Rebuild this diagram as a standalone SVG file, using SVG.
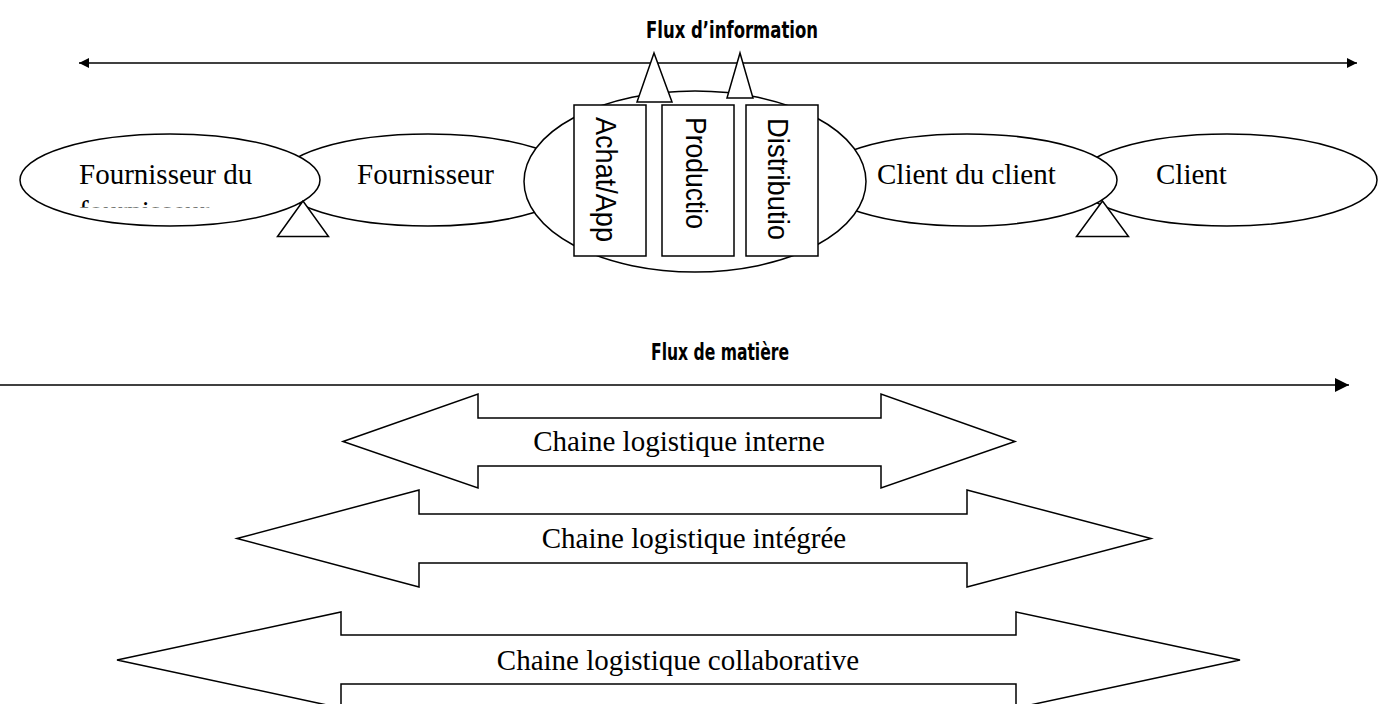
<svg xmlns="http://www.w3.org/2000/svg" width="1381" height="704" viewBox="0 0 1381 704">
<style>
.sh{fill:#fff;stroke:#000;stroke-width:1.5}
.ln{stroke:#000;stroke-width:1.5;fill:none}
.tr{font-family:"Liberation Serif","Times New Roman",serif;font-size:29px;fill:#000}
.sa{font-family:"Liberation Sans",Arial,sans-serif;font-size:30px;fill:#000}
.tt{font-family:"DejaVu Sans Condensed","DejaVu Sans",sans-serif;font-weight:bold;font-size:23px;fill:#000}
</style>
<defs>
<marker id="ah" viewBox="0 0 10 10" refX="10" refY="5" markerWidth="11" markerHeight="10" markerUnits="userSpaceOnUse" orient="auto-start-reverse">
<path d="M0,0 L10,5 L0,10 Z" fill="#000"/>
</marker>
<marker id="ah2" viewBox="0 0 14 14" refX="14" refY="7" markerWidth="14" markerHeight="14" markerUnits="userSpaceOnUse" orient="auto">
<path d="M0,0 L14,7 L0,14 Z" fill="#000"/>
</marker>
<clipPath id="clip1"><rect x="0" y="150" width="320" height="57.5"/></clipPath>
</defs>
<text class="tt" x="732" y="38" text-anchor="middle" textLength="172" lengthAdjust="spacingAndGlyphs">Flux d’information</text>
<text class="tt" x="720" y="360" text-anchor="middle" textLength="138" lengthAdjust="spacingAndGlyphs">Flux de matière</text>
<g id="connectors">
<line class="ln" x1="79" y1="63" x2="1357" y2="63" marker-start="url(#ah)" marker-end="url(#ah)"/>
<line class="ln" x1="0" y1="385" x2="1349" y2="385" marker-end="url(#ah2)"/>
</g>
<g id="client">
<ellipse class="sh" cx="1227" cy="180" rx="150" ry="46"/>
<text class="tr" x="1156" y="184">Client</text>
</g>
<g id="client-du-client">
<ellipse class="sh" cx="967" cy="180" rx="150" ry="46"/>
<text class="tr" x="877" y="184">Client du client</text>
</g>
<g id="fournisseur">
<ellipse class="sh" cx="428" cy="180" rx="150" ry="46"/>
<text class="tr" x="357" y="184">Fournisseur</text>
</g>
<g id="fournisseur-du-fournisseur">
<ellipse class="sh" cx="170" cy="180" rx="150" ry="46"/>
<text class="tr" x="79" y="184">Fournisseur du</text>
<text class="tr" x="79" y="221" clip-path="url(#clip1)">fournisseur</text>
</g>
<g id="entreprise">
<ellipse class="sh" cx="695" cy="181.5" rx="171" ry="90.5"/>
</g>
<g id="triangles">
<polygon class="sh" points="303,201 277.5,236.5 328.5,236.5"/>
<polygon class="sh" points="1102.5,201 1076.5,236.5 1128.5,236.5"/>
<polygon class="sh" points="654,53 637,102 672,102"/>
<polygon class="sh" points="740,53 727,98 753,98"/>
</g>
<g id="achat">
<rect class="sh" x="574" y="105" width="72" height="151"/>
<text class="sa" transform="translate(596,117) rotate(90)" textLength="125" lengthAdjust="spacingAndGlyphs">Achat/App</text>
</g>
<g id="production">
<rect class="sh" x="662" y="105" width="72" height="151"/>
<text class="sa" transform="translate(686,117) rotate(90)" textLength="112" lengthAdjust="spacingAndGlyphs">Productio</text>
</g>
<g id="distribution">
<rect class="sh" x="746" y="105" width="72" height="151"/>
<text class="sa" transform="translate(768,118) rotate(90)" textLength="122" lengthAdjust="spacingAndGlyphs">Distributio</text>
</g>
<g id="chaine-interne">
<polygon class="sh" points="343,441.5 478,394 478,418 881,418 881,394 1015,441.5 881,488 881,466 478,466 478,488"/>
<text class="tr" x="679" y="451" text-anchor="middle">Chaine logistique interne</text>
</g>
<g id="chaine-integree">
<polygon class="sh" points="237,538.5 419,490 419,514 967,514 967,490 1151,538.5 967,587 967,563 419,563 419,587"/>
<text class="tr" x="694" y="548" text-anchor="middle">Chaine logistique intégrée</text>
</g>
<g id="chaine-collaborative">
<polygon class="sh" points="117,660 341,612 341,635 1016,635 1016,612 1240,660 1016,708 1016,684 341,684 341,708"/>
<text class="tr" x="678" y="670" text-anchor="middle">Chaine logistique collaborative</text>
</g>
</svg>
